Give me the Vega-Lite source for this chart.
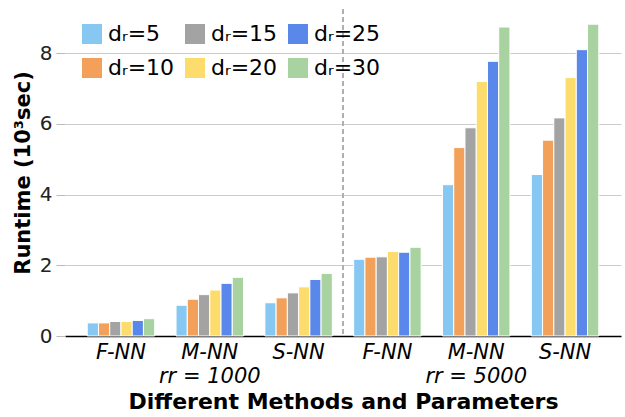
{
  "$schema": "https://vega.github.io/schema/vega-lite/v6.json",
  "width": 625,
  "height": 417,
  "autosize": {"type": "fit", "contains": "padding"},
  "padding": {"left": 12, "top": 8, "right": 4, "bottom": 5},
  "config": {
    "font": "DejaVu Sans",
    "view": {"stroke": null}
  },
  "datasets": {
    "bars": [
      {"group": "rr=1000|F-NN", "series": "d5", "runtime": 0.37},
      {"group": "rr=1000|F-NN", "series": "d10", "runtime": 0.37},
      {"group": "rr=1000|F-NN", "series": "d15", "runtime": 0.41},
      {"group": "rr=1000|F-NN", "series": "d20", "runtime": 0.41},
      {"group": "rr=1000|F-NN", "series": "d25", "runtime": 0.44},
      {"group": "rr=1000|F-NN", "series": "d30", "runtime": 0.49},
      {"group": "rr=1000|M-NN", "series": "d5", "runtime": 0.87},
      {"group": "rr=1000|M-NN", "series": "d10", "runtime": 1.04},
      {"group": "rr=1000|M-NN", "series": "d15", "runtime": 1.17},
      {"group": "rr=1000|M-NN", "series": "d20", "runtime": 1.30},
      {"group": "rr=1000|M-NN", "series": "d25", "runtime": 1.49},
      {"group": "rr=1000|M-NN", "series": "d30", "runtime": 1.66},
      {"group": "rr=1000|S-NN", "series": "d5", "runtime": 0.94},
      {"group": "rr=1000|S-NN", "series": "d10", "runtime": 1.08},
      {"group": "rr=1000|S-NN", "series": "d15", "runtime": 1.22},
      {"group": "rr=1000|S-NN", "series": "d20", "runtime": 1.39},
      {"group": "rr=1000|S-NN", "series": "d25", "runtime": 1.60},
      {"group": "rr=1000|S-NN", "series": "d30", "runtime": 1.77},
      {"group": "rr=5000|F-NN", "series": "d5", "runtime": 2.17},
      {"group": "rr=5000|F-NN", "series": "d10", "runtime": 2.23},
      {"group": "rr=5000|F-NN", "series": "d15", "runtime": 2.24},
      {"group": "rr=5000|F-NN", "series": "d20", "runtime": 2.39},
      {"group": "rr=5000|F-NN", "series": "d25", "runtime": 2.37},
      {"group": "rr=5000|F-NN", "series": "d30", "runtime": 2.51},
      {"group": "rr=5000|M-NN", "series": "d5", "runtime": 4.28},
      {"group": "rr=5000|M-NN", "series": "d10", "runtime": 5.33},
      {"group": "rr=5000|M-NN", "series": "d15", "runtime": 5.89},
      {"group": "rr=5000|M-NN", "series": "d20", "runtime": 7.20},
      {"group": "rr=5000|M-NN", "series": "d25", "runtime": 7.77},
      {"group": "rr=5000|M-NN", "series": "d30", "runtime": 8.74},
      {"group": "rr=5000|S-NN", "series": "d5", "runtime": 4.57},
      {"group": "rr=5000|S-NN", "series": "d10", "runtime": 5.54},
      {"group": "rr=5000|S-NN", "series": "d15", "runtime": 6.17},
      {"group": "rr=5000|S-NN", "series": "d20", "runtime": 7.31},
      {"group": "rr=5000|S-NN", "series": "d25", "runtime": 8.10},
      {"group": "rr=5000|S-NN", "series": "d30", "runtime": 8.82}
    ],
    "sep": [{"group": "rr=1000|S-NN"}]
  },
  "layer": [
    {
      "data": {"name": "bars"},
      "mark": {"type": "bar", "stroke": "white", "strokeWidth": 1},
      "encoding": {
        "x": {
          "field": "group",
          "type": "nominal",
          "scale": {
            "domain": ["rr=1000|F-NN", "rr=1000|M-NN", "rr=1000|S-NN", "rr=5000|F-NN", "rr=5000|M-NN", "rr=5000|S-NN"],
            "paddingInner": 0,
            "paddingOuter": 0.13
          },
          "axis": {
            "title": "Different Methods and Parameters",
            "titleFontSize": 22,
            "titleFontWeight": "bold",
            "titleColor": "#000",
            "titlePadding": 5,
            "labelAngle": 0,
            "labelFontSize": 21,
            "labelFontStyle": "italic",
            "labelColor": "#000",
            "labelPadding": 5,
            "labelLineHeight": 24,
            "labelExpr": "datum.value == 'rr=1000|M-NN' ? ['M-NN', 'rr = 1000'] : datum.value == 'rr=5000|M-NN' ? ['M-NN', 'rr = 5000'] : split(datum.value, '|')[1]",
            "ticks": false,
            "domainColor": "#000",
            "domainWidth": 1.5,
            "grid": false
          }
        },
        "xOffset": {
          "field": "series",
          "type": "nominal",
          "scale": {
            "domain": ["d5", "d10", "d15", "d20", "d25", "d30"],
            "paddingInner": 0,
            "paddingOuter": 0.95
          }
        },
        "y": {
          "field": "runtime",
          "type": "quantitative",
          "scale": {"domain": [0, 9.25], "nice": false},
          "axis": {
            "title": "Runtime (10³sec)",
            "titleFontSize": 21,
            "titleFontWeight": "bold",
            "titleColor": "#000",
            "titlePadding": 6,
            "values": [0, 2, 4, 6, 8],
            "labelFontSize": 20,
            "labelColor": "#222",
            "labelPadding": 4,
            "tickColor": "#bbb",
            "tickSize": 9,
            "domain": false,
            "gridColor": "#cccccc",
            "gridWidth": 1
          }
        },
        "color": {
          "field": "series",
          "type": "nominal",
          "scale": {
            "domain": ["d5", "d10", "d15", "d20", "d25", "d30"],
            "range": ["#87c8f2", "#f3a05a", "#a3a3a3", "#fcdc6c", "#5a87ea", "#a8d3a0"]
          },
          "legend": {
            "orient": "none",
            "legendX": 16,
            "legendY": 14,
            "columns": 3,
            "title": null,
            "symbolType": "square",
            "symbolSize": 400,
            "symbolStrokeWidth": 0,
            "symbolOpacity": 1,
            "labelFontSize": 22,
            "labelColor": "#000",
            "labelOffset": 5,
            "columnPadding": 9,
            "rowPadding": 12,
            "labelExpr": "'dᵣ=' + substring(datum.value, 1)"
          }
        }
      }
    },
    {
      "data": {"name": "sep"},
      "mark": {"type": "rule", "color": "#b0b0b0", "strokeWidth": 2, "strokeDash": [5, 3]},
      "encoding": {
        "x": {"field": "group", "type": "nominal", "bandPosition": 1}
      }
    }
  ]
}
